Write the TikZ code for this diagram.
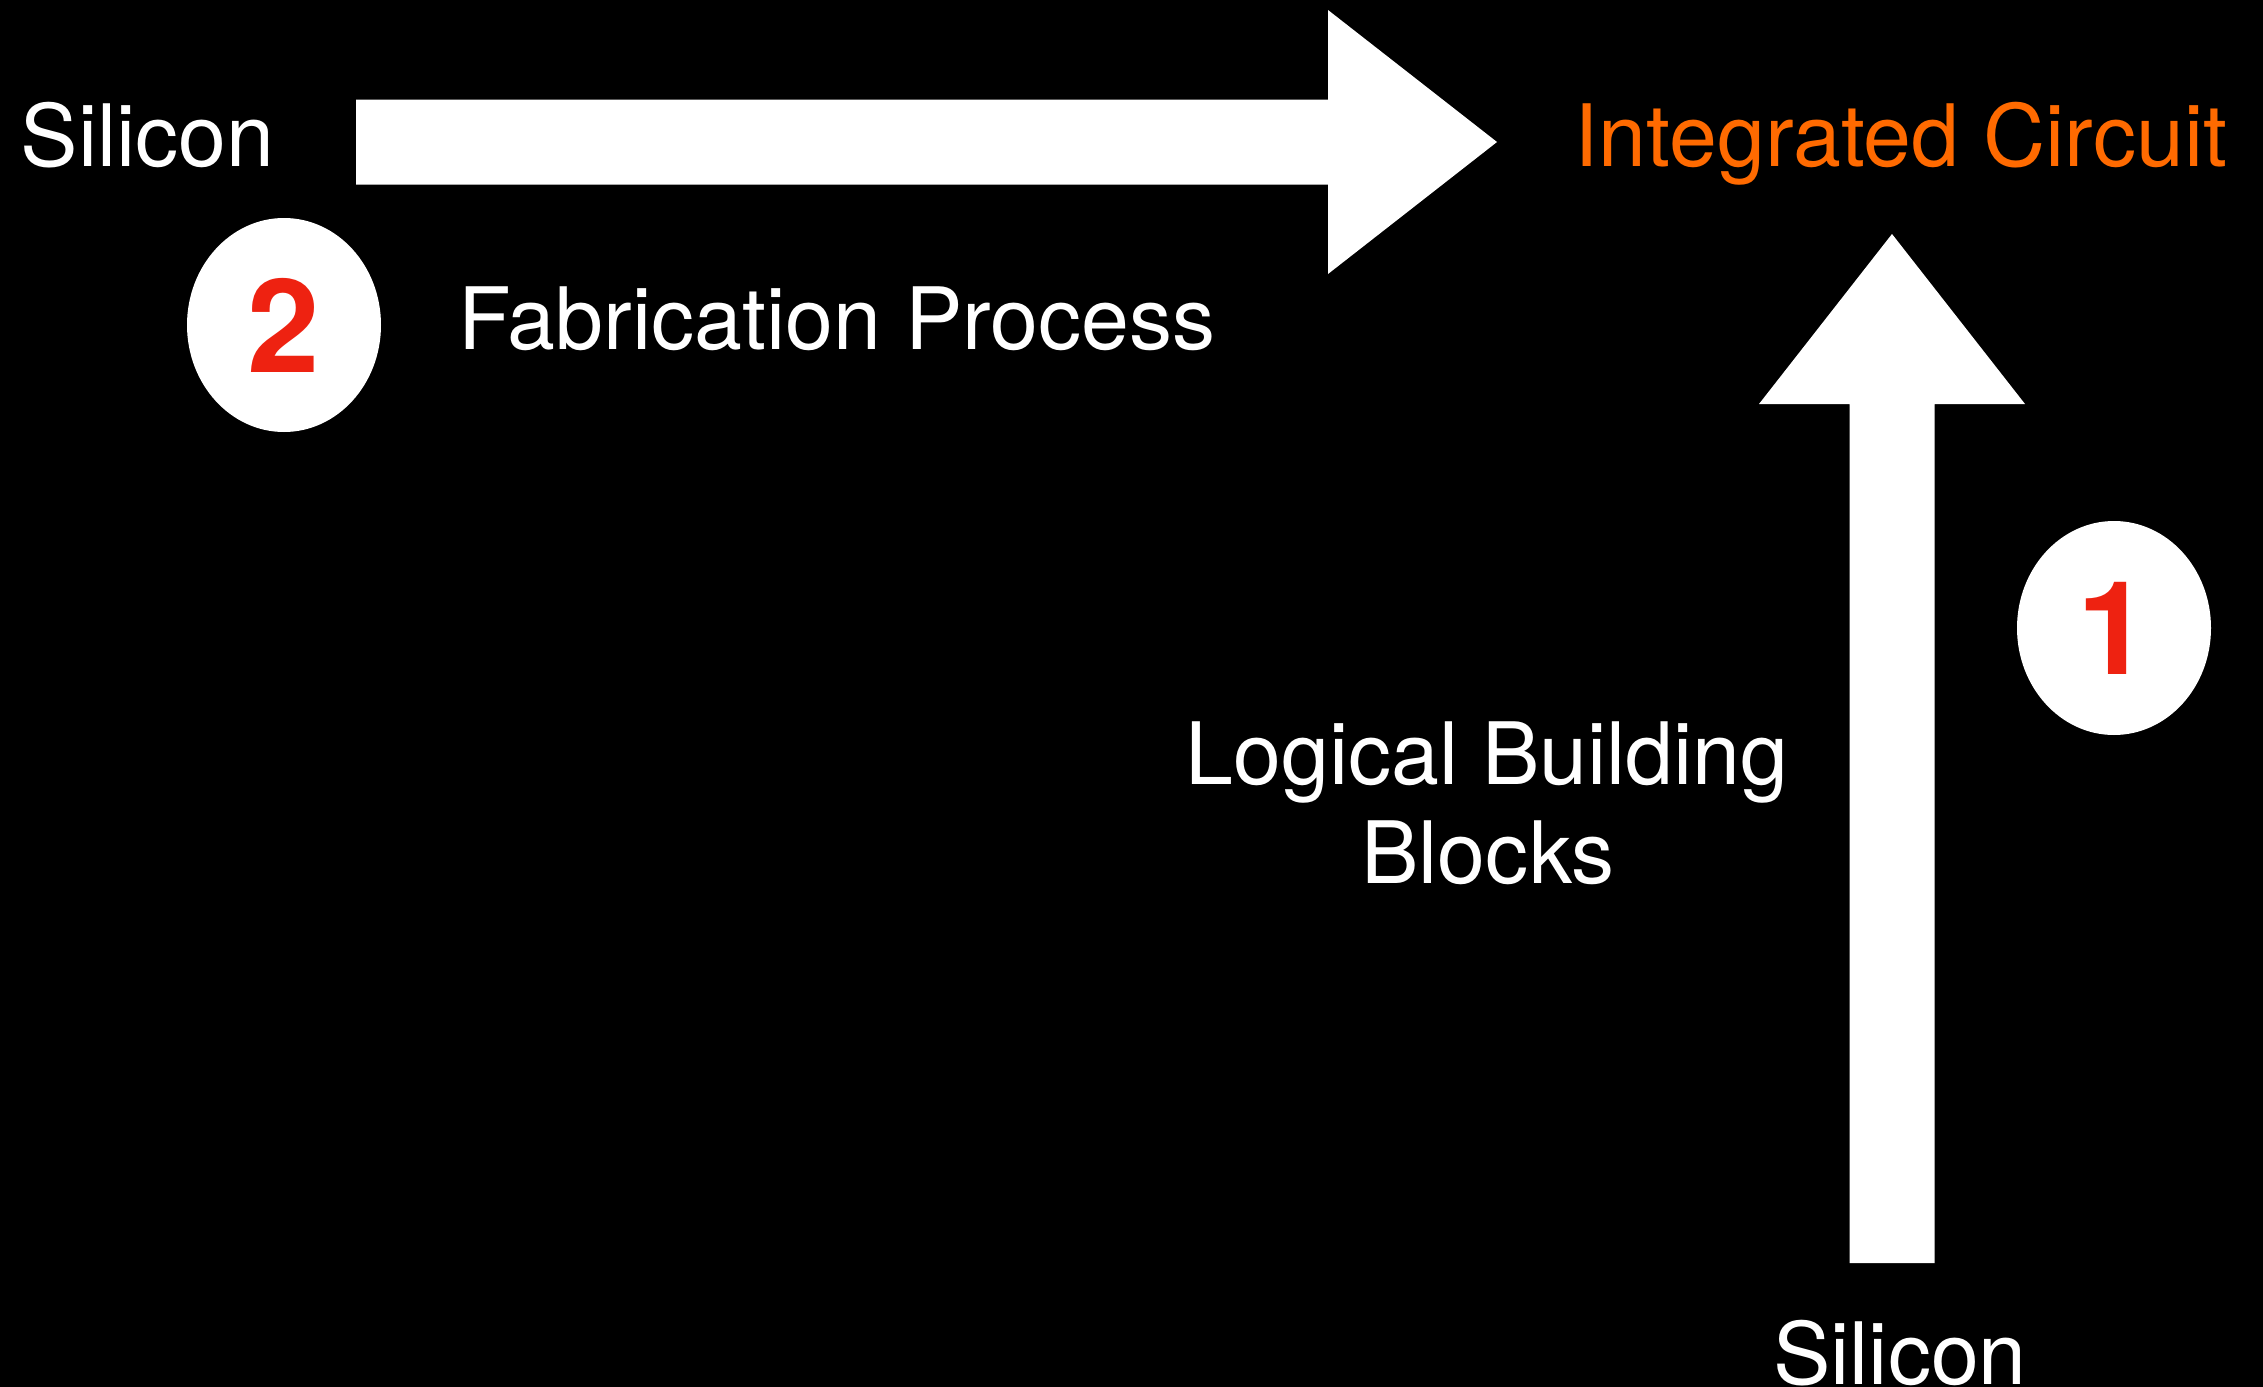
\documentclass[tikz,border=0pt]{standalone}
\usepackage{fontspec}
\setmainfont{TeX Gyre Heros}
\usepackage{tikz}
\usetikzlibrary{calc}
\usetikzlibrary{shapes.geometric}

\definecolor{icorange}{RGB}{255,106,0}
\definecolor{stepred}{RGB}{238,34,17}

\begin{document}
\begin{tikzpicture}[x=0.1mm, y=-0.1mm, inner sep=0pt, txt/.style={text=white, font=\fontsize{24.5}{28.1}\selectfont}, badge/.style={ellipse, fill=white, minimum width=19.4mm, minimum height=21.4mm, text=stepred, font=\fontsize{37}{37}\bfseries\selectfont}, bigarrow/.style={fill=white}]
  \fill[black] (0,0) rectangle (2263,1387);
  \useasboundingbox (0,0) rectangle (2263,1387);

  \node[txt, anchor=base west]   (si0)  at (20,166)     {Silicon};
  \node[txt, anchor=base, text=icorange] (ic) at (1901,166) {Integrated Circuit};
  \node[txt, anchor=base]        (fab)  at (837,349)    {Fabrication Process};
  \node[txt, anchor=base]        (lbb)  at (1487,784)   {Logical Building};
  \node[txt, anchor=base]        (blk)  at (1488,883)   {Blocks};
  \node[txt, anchor=base]        (si1)  at (1900,1384)  {Silicon};

  \node[badge] (n2) at (284,325) {2};
  \node[badge] (n1) at (2114,628) {1};

  % block arrows
  \coordinate (h0) at (356,142);
  \coordinate (h1) at (1497,142);
  \coordinate (v0) at (1892,1263);
  \coordinate (v1) at (1892,234);

  \fill[bigarrow] ($(h0)+(0,-42.5)$) -- ($(h1)+(-169,-42.5)$) -- ($(h1)+(-169,-132)$) -- (h1)
                  -- ($(h1)+(-169,132)$) -- ($(h1)+(-169,42.5)$) -- ($(h0)+(0,42.5)$) -- cycle;
  \fill[bigarrow] ($(v0)+(-42.5,0)$) -- ($(v1)+(-42.5,170)$) -- ($(v1)+(-133,170)$) -- (v1)
                  -- ($(v1)+(133,170)$) -- ($(v1)+(42.5,170)$) -- ($(v0)+(42.5,0)$) -- cycle;
\end{tikzpicture}
\end{document}
